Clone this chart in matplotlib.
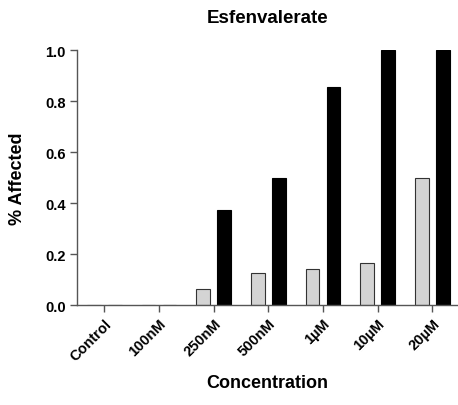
import numpy as np
import matplotlib
matplotlib.use('Agg')
import matplotlib.pyplot as plt

# Data
categories = ['Control', '100nM', '250nM', '500nM', '1µM', '10µM', '20µM']
grey_values = [0, 0, 0.0625, 0.125, 0.143, 0.167, 0.5]
black_values = [0, 0, 0.375, 0.5, 0.857, 1.0, 1.0]

plt.rcParams['font.family'] = ['Liberation Sans', 'DejaVu Sans']
plt.rcParams['font.weight'] = 'bold'

fig = plt.figure(figsize=(4.58, 4.06), dpi=100)
ax = fig.add_axes([0.168, 0.246, 0.832, 0.628])

x = np.arange(len(categories))
width = 0.25
ax.bar(x - 0.19, grey_values, width, color='#d4d4d4', edgecolor='#333333', linewidth=0.8)
ax.bar(x + 0.19, black_values, width, color='black', edgecolor='black', linewidth=0.8)

ax.set_xlim(-0.5, 6.47)
ax.set_ylim(0, 1.0)
ax.set_yticks([0.0, 0.2, 0.4, 0.6, 0.8, 1.0])
ax.set_yticklabels(['0.0', '0.2', '0.4', '0.6', '0.8', '1.0'], fontsize=10.5, fontweight='bold')
ax.set_xticks(x)
ax.set_xticklabels(categories, rotation=45, ha='right', rotation_mode='anchor',
                   fontsize=10.5, fontweight='bold')

for side in ['top', 'right']:
    ax.spines[side].set_visible(False)
for side in ['left', 'bottom']:
    ax.spines[side].set_color('#555555')
    ax.spines[side].set_linewidth(1.0)
ax.tick_params(direction='out', length=5, width=1, color='#555555', pad=3)

# title and axis labels placed to match the reference
ax.set_title('Esfenvalerate', fontsize=13.5, fontweight='bold', y=1.129, va='center', pad=0)
ax.set_xlabel('Concentration', fontsize=13, fontweight='bold')
ax.xaxis.set_label_coords(0.5, -0.302)
ax.xaxis.label.set_va('center')
ax.set_ylabel('% Affected', fontsize=13, fontweight='bold')
ax.yaxis.set_label_coords(-0.155, 0.5)
ax.yaxis.label.set_va('center')

fig.savefig('out.png', dpi=100)
